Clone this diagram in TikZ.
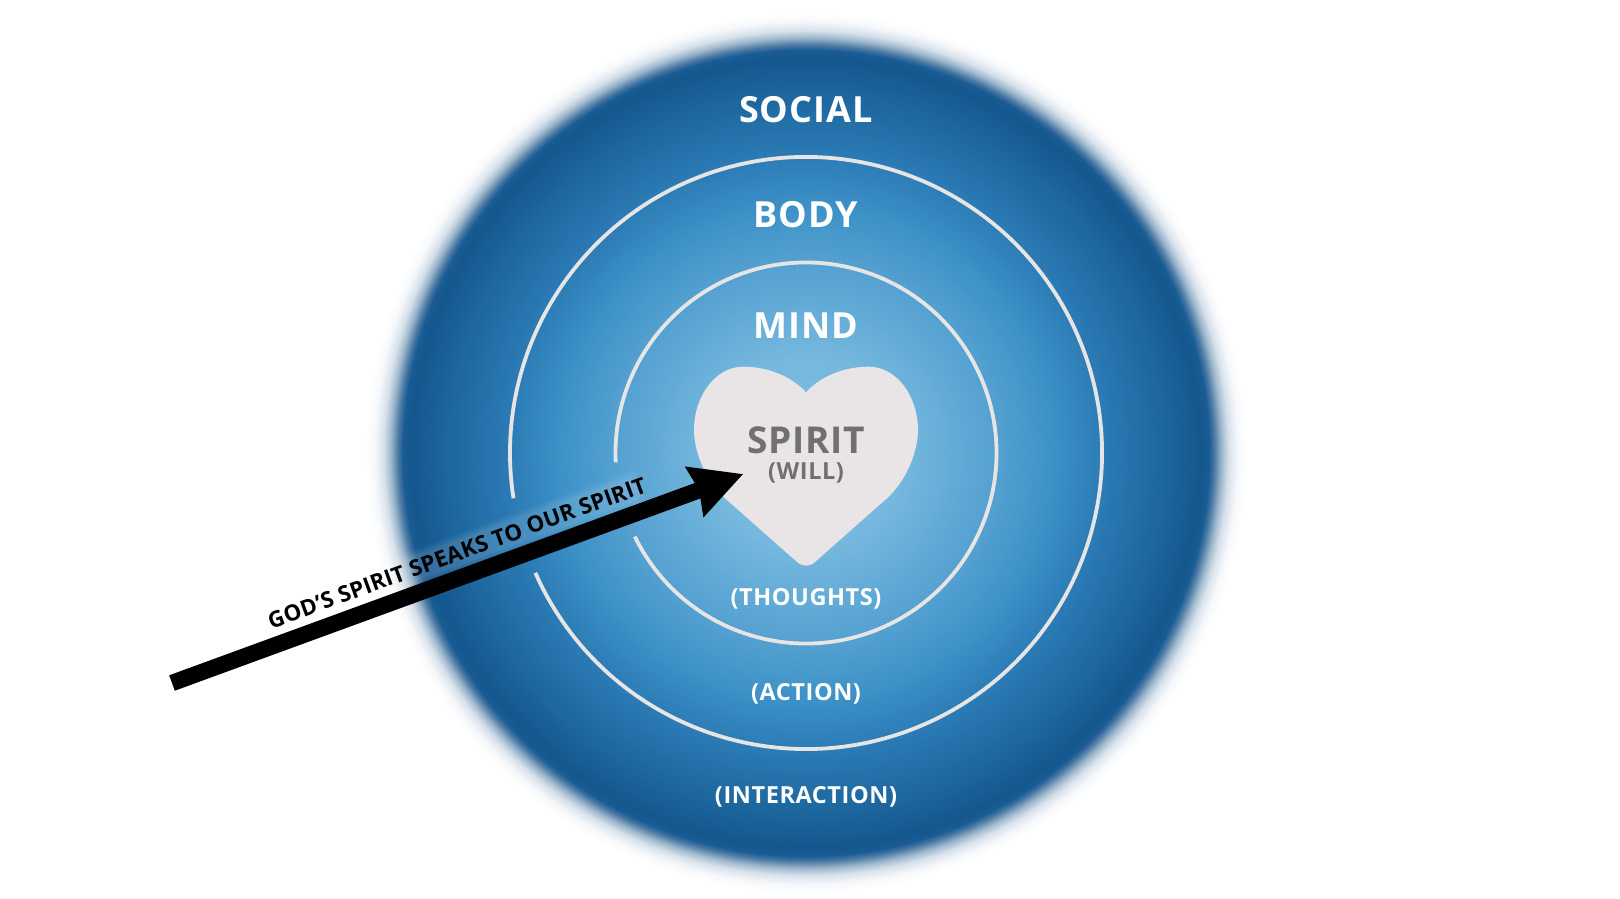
\documentclass[tikz,border=0pt]{standalone}
\usepackage{fontspec}
\setmainfont{Open Sans}
\usetikzlibrary{arrows.meta}
\definecolor{ringc}{RGB}{231,228,228}
\definecolor{heartc}{RGB}{233,228,229}
\definecolor{spiritc}{RGB}{112,112,110}
% radii are r/440*25 bp (TikZ maps the path box to the central 50bp)
\pgfdeclareradialshading{discshade}{\pgfpoint{0bp}{0bp}}{%
rgb(0bp)=(0.50,0.75,0.88);
rgb(5.5bp)=(0.46,0.72,0.87);
rgb(10.8bp)=(0.33,0.63,0.82);
rgb(14bp)=(0.24,0.57,0.78);
rgb(17bp)=(0.17,0.48,0.71);
rgb(20bp)=(0.12,0.41,0.63);
rgb(22.5bp)=(0.08,0.34,0.56);
rgb(22.9bp)=(0.10,0.36,0.58);
rgb(23.2bp)=(0.30,0.48,0.65);
rgb(23.6bp)=(0.62,0.72,0.80);
rgb(24bp)=(0.84,0.88,0.92);
rgb(24.5bp)=(0.96,0.97,0.98);
rgb(25bp)=(1,1,1);
rgb(50bp)=(1,1,1)}
\tikzset{
  x=1pt,y=1pt,
  ringline/.style={draw=ringc,line width=3.8pt,line cap=butt},
  biglabel/.style={text=white,font=\fontsize{36}{36}\selectfont\bfseries\addfontfeature{LetterSpace=3},anchor=center,inner sep=0pt},
  smalllabel/.style={text=white,font=\fontsize{23.5}{24}\selectfont\bfseries\addfontfeature{LetterSpace=2.5},anchor=center,inner sep=0pt},
  pointer/.style={line width=16.4pt,draw=black,-{Stealth[length=51pt,width=51pt,inset=4pt]}},
  halo/.style={fill=white,fill opacity=0.03,rounded corners=8pt},
}
\begin{document}
\begin{tikzpicture}
\useasboundingbox (0,0) rectangle (1620,898);
\fill[white] (0,0) rectangle (1620,898);
\coordinate (centre) at (806,445);
\shade[shading=discshade] (centre) circle[radius=440];
% rings with gaps
\draw[ringline] (centre) ++(203.9:296) arc[start angle=203.9,end angle=548.8,radius=296];
\draw[ringline] (centre) ++(206:190.5) arc[start angle=206,end angle=542.8,radius=190.5];
% heart
\fill[heartc] (806,505.7)
  .. controls (791.7,521.3) and (768.3,531.3) .. (743.3,531.3)
  .. controls (715,531.3) and (694,501.3) .. (694,468)
  .. controls (694,444.7) and (707,416) .. (725,399.7)
  -- (796.7,336.3)
  .. controls (800,333.3) and (803,332.3) .. (806,332.3)
  .. controls (809,332.3) and (812,333.3) .. (815.3,336.3)
  -- (887,399.7)
  .. controls (905,416) and (918,444.7) .. (918,468)
  .. controls (918,501.3) and (897,531.3) .. (868.7,531.3)
  .. controls (843.7,531.3) and (820.3,521.3) .. (806,505.7) -- cycle;
% labels
\node[biglabel] (social) at (806,788.5) {SOCIAL};
\node[biglabel] (body) at (806,683) {BODY};
\node[biglabel] (mind) at (806,572) {MIND};
\node[biglabel,text=spiritc,font=\fontsize{37}{37}\selectfont\bfseries\addfontfeature{LetterSpace=2}] (spirit) at (806,458) {SPIRIT};
\node[smalllabel,text=spiritc] (will) at (806,425) {(WILL)};
\node[smalllabel] (thoughts) at (806,299) {(THOUGHTS)};
\node[smalllabel] (action) at (806,204.5) {(ACTION)};
\node[smalllabel] (interaction) at (806,101) {(INTERACTION)};
% arrow
\coordinate (tail) at (172,215);
\coordinate (tip) at (743.3,424);
\begin{scope}[shift={(457,345)},rotate=20]
\path[halo] (-197,-18) rectangle (197,18);
\path[halo] (-195,-16) rectangle (195,16);
\path[halo] (-193,-14.5) rectangle (193,14.5);
\path[halo] (-192,-13) rectangle (192,13);
\path[halo] (-191,-12) rectangle (191,12);
\end{scope}
\node[rotate=20,inner sep=0pt,text=black,font=\fontsize{22.3}{22}\selectfont\bfseries\addfontfeature{LetterSpace=1}] (say) at (457,345) {GOD’S SPIRIT SPEAKS TO OUR SPIRIT};
\draw[pointer] (tail) -- (tip);
\end{tikzpicture}
\end{document}
